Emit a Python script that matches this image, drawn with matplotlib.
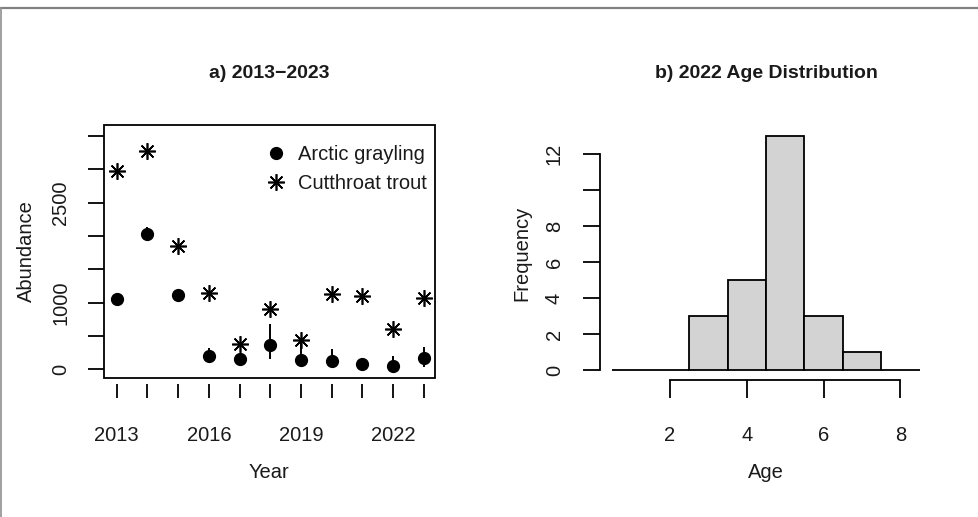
import matplotlib
matplotlib.use("Agg")
import matplotlib.pyplot as plt
from matplotlib.patches import Rectangle
from matplotlib.lines import Line2D
import numpy as np

plt.rcParams['font.family'] = ['Liberation Sans', 'DejaVu Sans']

# ---- data ----
years = [2013, 2014, 2015, 2016, 2017, 2018, 2019, 2020, 2021, 2022, 2023]
grayling = [1055, 2030, 1120, 200, 160, 365, 140, 130, 75, 55, 175]
grayling_lo = [1000, 1930, 1080, 150, 120, 150, 100, 60, 40, 0, 30]
grayling_hi = [1110, 2130, 1160, 315, 200, 680, 390, 300, 110, 200, 340]
cutthroat = [2975, 3275, 1850, 1140, 380, 900, 440, 1130, 1105, 600, 1065]
year_ticklabels = ['2013', '', '', '2016', '', '', '2019', '', '', '2022', '']
abund_ticks = [0, 500, 1000, 1500, 2000, 2500, 3000, 3500]
abund_ticklabels = ['0', '', '1000', '', '', '2500', '', '']

age_centers = [1, 2, 3, 4, 5, 6, 7, 8]
age_counts = [0, 0, 3, 5, 13, 3, 1, 0]
age_ticks = [2, 4, 6, 8]
freq_ticks = [0, 2, 4, 6, 8, 10, 12]
freq_ticklabels = ['0', '2', '4', '6', '8', '', '12']

W, H = 979, 517
fig = plt.figure(figsize=(W / 100, H / 100), dpi=100)

LW = 1.3
TS = 14.5
TXT = '#1a1a1a'

# ---------- panel a ----------
ax1 = fig.add_axes([103.5 / W, 1 - 378 / H, 331.5 / W, 253 / H])
ax1.set_xlim(2012.57, 2023.36)
ax1.set_ylim(-130, 3665)
for s in ax1.spines.values():
    s.set_visible(False)
ax1.add_patch(Rectangle((0, 0), 1, 1, transform=ax1.transAxes, fill=False,
                        lw=LW, ec='black', clip_on=False, zorder=5))
ax1.spines['bottom'].set_position(('outward', 4.3))

err_lo = np.array(grayling) - np.array(grayling_lo)
err_hi = np.array(grayling_hi) - np.array(grayling)
ax1.errorbar(years, grayling, yerr=[err_lo, err_hi], fmt='none', ecolor='black',
             elinewidth=1.4, capsize=0, zorder=2)
ax1.plot(years, grayling, 'o', color='black', markersize=8.5, ls='none',
         label='Arctic grayling', zorder=3)
ax1.plot(years, cutthroat, marker=(8, 2, 0), color='black', markersize=12,
         markeredgewidth=1.2, ls='none', label='Cutthroat trout', zorder=3)

ax1.set_xticks(years)
ax1.set_xticklabels(year_ticklabels, fontsize=TS, color=TXT)
ax1.set_yticks(abund_ticks)
ax1.set_yticklabels(abund_ticklabels, fontsize=TS, rotation=90, va='center',
                    color=TXT)
ax1.tick_params(axis='x', direction='out', length=10, width=LW, pad=20)
ax1.tick_params(axis='y', direction='out', length=11.5, width=LW, pad=12.5)

ax1.text(0.5, 1 + (125 - 74) / 253, 'a) 2013\u22122023', transform=ax1.transAxes,
         ha='center', va='center', fontsize=14, fontweight='bold', color=TXT)
ax1.set_xlabel('Year', fontsize=TS, color=TXT)
ax1.xaxis.set_label_coords(0.5, (378 - 472) / 253)
ax1.xaxis.label.set_va('center')
ax1.set_ylabel('Abundance', fontsize=TS, color=TXT)
ax1.yaxis.set_label_coords((26 - 103.5) / 331.5, 0.5)
ax1.yaxis.label.set_va('center')

leg = ax1.legend(loc='upper right', bbox_to_anchor=(1.012, 0.968), frameon=False,
                 fontsize=TS, handlelength=1.0, handletextpad=0.6, borderpad=0.3,
                 labelspacing=0.5, borderaxespad=0.3)
for t in leg.get_texts():
    t.set_color(TXT)

# ---------- panel b ----------
ax2 = fig.add_axes([600 / W, 1 - 379.4 / H, 332 / W, 252.8 / H])
ax2.set_xlim(0.18, 8.82)
ax2.set_ylim(-0.52, 13.52)
ax2.bar(age_centers, age_counts, width=1.0, color='#d3d3d3', edgecolor='black',
        linewidth=LW)
ax2.spines['top'].set_visible(False)
ax2.spines['right'].set_visible(False)
ax2.spines['left'].set_bounds(0, 12)
ax2.spines['bottom'].set_bounds(2, 8)
ax2.spines['left'].set_linewidth(LW)
ax2.spines['bottom'].set_linewidth(LW)
ax2.spines['bottom'].set_position(('outward', 0.5))
ax2.set_xticks(age_ticks)
ax2.set_xticklabels([str(t) for t in age_ticks], fontsize=TS, color=TXT)
ax2.set_yticks(freq_ticks)
ax2.set_yticklabels(freq_ticklabels, fontsize=TS, rotation=90, va='center',
                    color=TXT)
ax2.tick_params(axis='x', direction='out', length=13, width=LW, pad=20)
ax2.tick_params(axis='y', direction='out', length=12, width=LW, pad=14)

ax2.text(0.5, 1 + (126.6 - 74) / 252.8, 'b) 2022 Age Distribution',
         transform=ax2.transAxes, ha='center', va='center', fontsize=14,
         fontweight='bold', color=TXT)
ax2.set_xlabel('Age', fontsize=TS, color=TXT)
ax2.xaxis.set_label_coords(0.5, (379.4 - 472) / 252.8)
ax2.xaxis.label.set_va('center')
ax2.set_ylabel('Frequency', fontsize=TS, color=TXT)
ax2.yaxis.set_label_coords((522 - 600) / 332, 0.5)
ax2.yaxis.label.set_va('center')

# ---------- screenshot border ----------
fig.add_artist(Line2D([0, 1], [1 - 7.5 / H, 1 - 7.5 / H], color='#808080', lw=1.6,
                      transform=fig.transFigure))
fig.add_artist(Line2D([1 / W, 1 / W], [0, 1 - 7.5 / H], color='#909090', lw=1.2,
                      transform=fig.transFigure))

fig.savefig('out.png', dpi=100, facecolor='white')
